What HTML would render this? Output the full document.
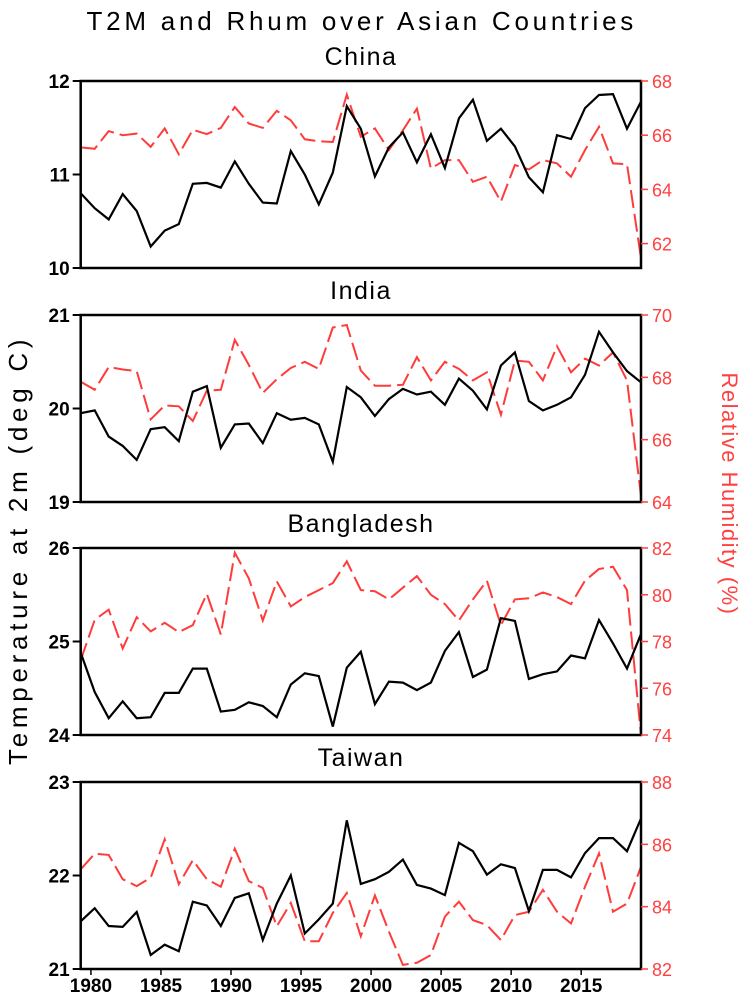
<!DOCTYPE html>
<html><head><meta charset="utf-8"><style>
html,body{margin:0;padding:0;background:#fff}
svg{display:block}
text{font-family:"Liberation Sans",sans-serif}
</style></head><body>
<svg id="chart" width="749" height="996" viewBox="0 0 749 996" xmlns="http://www.w3.org/2000/svg">
<text x="361" y="30" text-anchor="middle" font-size="26" letter-spacing="2.2" textLength="549" lengthAdjust="spacing">T2M and Rhum over Asian Countries</text>
<text transform="translate(27,551) rotate(-90)" text-anchor="middle" font-size="26" letter-spacing="2.5" textLength="428" lengthAdjust="spacing">Temperature at 2m (deg C)</text>
<text transform="translate(722,494) rotate(90)" text-anchor="middle" font-size="22" fill="#ff4040" letter-spacing="1.5">Relative Humidity (%)</text>
<g id="panels"></g>
</svg>
<script>
const years=[];for(let y=1979;y<=2019;y++)years.push(y);
const xTickLabels=[1980,1985,1990,1995,2000,2005,2010,2015];
const countries=["China","India","Bangladesh","Taiwan"];
const chinaT2m=[10.80,10.64,10.52,10.79,10.61,10.23,10.40,10.47,10.90,10.91,10.86,11.14,10.90,10.70,10.69,11.25,11.0,10.68,11.02,11.73,11.49,10.98,11.29,11.45,11.13,11.43,11.07,11.60,11.80,11.36,11.49,11.30,10.97,10.81,11.42,11.38,11.71,11.85,11.86,11.49,11.78];
const chinaRhum=[65.55,65.5,66.15,66.0,66.06,65.57,66.25,65.3,66.2,66.04,66.27,67.04,66.43,66.27,66.9,66.55,65.85,65.78,65.75,67.5,65.94,66.25,65.45,66.18,66.98,64.77,65.08,65.08,64.28,64.47,63.55,64.9,64.74,65.08,64.96,64.47,65.45,66.31,64.96,64.93,61.46];
const indiaT2m=[19.95,19.98,19.7,19.6,19.45,19.78,19.8,19.65,20.18,20.24,19.58,19.83,19.84,19.63,19.95,19.88,19.9,19.83,19.43,20.23,20.12,19.92,20.1,20.21,20.15,20.18,20.04,20.32,20.19,19.99,20.46,20.6,20.08,19.98,20.04,20.12,20.36,20.82,20.6,20.4,20.28];
const indiaRhum=[67.86,67.6,68.33,68.25,68.2,66.65,67.1,67.07,66.6,67.57,67.6,69.2,68.4,67.5,67.94,68.3,68.5,68.27,69.6,69.68,68.22,67.73,67.73,67.76,68.65,67.9,68.5,68.27,67.9,68.16,66.8,68.54,68.5,67.9,69.0,68.16,68.6,68.38,68.8,67.9,64.2];
const bangT2m=[24.88,24.46,24.18,24.36,24.18,24.19,24.45,24.45,24.71,24.71,24.25,24.27,24.35,24.31,24.19,24.54,24.66,24.63,24.09,24.72,24.89,24.33,24.57,24.56,24.48,24.56,24.9,25.1,24.62,24.7,25.25,25.22,24.6,24.65,24.68,24.85,24.82,25.23,24.98,24.71,25.08];
const bangRhum=[77.2,78.93,79.36,77.7,79.04,78.43,78.8,78.4,78.7,80.04,78.3,81.8,80.7,78.9,80.57,79.5,79.9,80.2,80.5,81.43,80.2,80.15,79.8,80.3,80.8,80.0,79.6,78.9,79.8,80.6,78.7,79.8,79.85,80.1,79.9,79.6,80.6,81.1,81.2,80.2,74.0];
const taiT2m=[21.51,21.65,21.46,21.45,21.61,21.15,21.26,21.19,21.72,21.68,21.46,21.76,21.81,21.31,21.7,22.0,21.38,21.53,21.7,22.59,21.91,21.96,22.04,22.17,21.9,21.86,21.79,22.35,22.26,22.01,22.12,22.08,21.62,22.06,22.06,21.98,22.24,22.4,22.4,22.26,22.61];
const taiRhum=[85.2,85.7,85.66,84.88,84.66,84.93,86.16,84.72,85.49,84.88,84.64,85.86,84.82,84.6,83.37,84.12,82.89,82.89,83.8,84.44,83.05,84.36,83.2,82.13,82.2,82.45,83.68,84.16,83.57,83.41,82.93,83.73,83.84,84.54,83.84,83.46,84.64,85.71,83.84,84.1,85.28];
const leftTicks=[[10,11,12],[19,20,21],[24,25,26],[21,22,23]];
const rightTicks=[[62,64,66,68],[64,66,68,70],[74,76,78,80,82],[82,84,86,88]];
const rightRange=[[61.1,68],[64,70],[74,82],[82,88]];
const seriesT=[chinaT2m,indiaT2m,bangT2m,taiT2m];
const seriesR=[chinaRhum,indiaRhum,bangRhum,taiRhum];

const NS="http://www.w3.org/2000/svg";
const X0=80.7,X1=641,tops=[81,315,548,782],H=187;
function xs(y){return X0+(y-1979)/(2019-1979)*(X1-X0);}
function mk(tag,attrs,parent){const e=document.createElementNS(NS,tag);for(const k in attrs)e.setAttribute(k,attrs[k]);parent.appendChild(e);return e;}
const root=document.getElementById('panels');
countries.forEach((c,i)=>{
  const top=tops[i],bot=top+H;
  const g=mk('g',{},root);
  
  
  const lt=leftTicks[i],lmin=lt[0],lmax=lt[lt.length-1];
  const yl=v=>bot-(v-lmin)/(lmax-lmin)*H;
  const rr=rightRange[i];
  const yr=v=>bot-(v-rr[0])/(rr[1]-rr[0])*H;
  const t=mk('text',{x:361,y:top-16,'text-anchor':'middle','font-size':'25','letter-spacing':'1.5'},g);
  t.textContent=c;
  
  
  const pr=mk('polyline',{points:seriesR[i].map((v,k)=>xs(years[k]).toFixed(1)+','+yr(v).toFixed(1)).join(' '),fill:'none',stroke:'#ff3b3b','stroke-width':'2','stroke-dasharray':'18,6'},g);
  
  
  const pt=mk('polyline',{points:seriesT[i].map((v,k)=>xs(years[k]).toFixed(1)+','+yl(v).toFixed(1)).join(' '),fill:'none',stroke:'#000','stroke-width':'2.2'},g);
  
  
  const fr=mk('rect',{x:X0,y:top,width:X1-X0,height:H,fill:'none',stroke:'#000','stroke-width':'2.5'},g);
  
  
  lt.forEach(v=>{
    mk('line',{x1:X0-8,x2:X0,y1:yl(v),y2:yl(v),stroke:'#000','stroke-width':'2'},g);
    const tx=mk('text',{x:X0-11,y:yl(v)+7,'text-anchor':'end','font-size':'19','font-weight':'bold'},g);
    tx.textContent=v;
    
    
  });
  rightTicks[i].forEach(v=>{
    mk('line',{x1:X1,x2:X1+7,y1:yr(v),y2:yr(v),stroke:'#ff4040','stroke-width':'1.5'},g);
    const tx=mk('text',{x:X1+11,y:yr(v)+7,'font-size':'18',fill:'#ff4040'},g);
    tx.textContent=v;
    
    
  });
  if(i===3){
    xTickLabels.forEach(y=>{
      const xx=xs(y-0.27);
      mk('line',{x1:xx,x2:xx,y1:bot,y2:bot+6,stroke:'#000','stroke-width':'1.5'},g);
      const tx=mk('text',{x:xx,y:bot+23,'text-anchor':'middle','font-size':'19','font-weight':'bold'},g);
      tx.textContent=y;
      
      
    });
  }
});
</script>
</body></html>
